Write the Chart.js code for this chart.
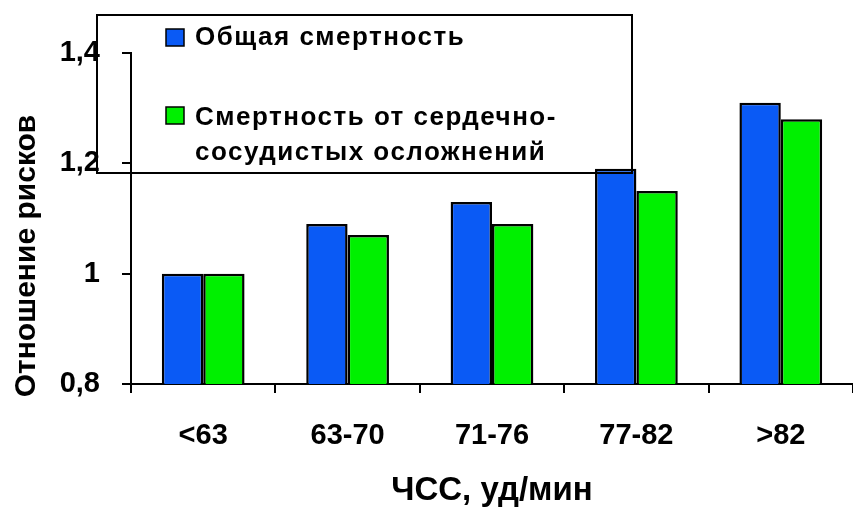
<!DOCTYPE html>
<html>
<head>
<meta charset="utf-8">
<script src="https://cdn.jsdelivr.net/npm/chart.js@4"></script>
<style>
  html, body { margin: 0; padding: 0; background: #fff; }
  #wrap { width: 853px; height: 511px; }
</style>
</head>
<body>
<div id="wrap"><canvas id="chart"></canvas></div>
<script>
const categories = ["<63", "63-70", "71-76", "77-82", ">82"];
const seriesNames = [["Общая смертность"], ["Смертность от сердечно-", "сосудистых осложнений"]];
const totalMortality = [1.0, 1.09, 1.13, 1.19, 1.31];
const cvMortality = [1.0, 1.07, 1.09, 1.15, 1.28];
const yTickValues = [0.8, 1, 1.2, 1.4];
const yTickLabels = ["0,8", "1", "1,2", "1,4"];
const xTitle = "ЧСС, уд/мин";
const yTitle = "Отношение рисков";

const FONT = "'Liberation Sans', Arial, sans-serif";
const blue = "#0a5af5";
const green = "#00f000";

// рамка легенды поверх графика, как в исходной картинке
const boxLegend = {
  id: "boxLegend",
  afterDraw(chart) {
    const ctx = chart.ctx;
    ctx.save();
    ctx.strokeStyle = "#000";
    ctx.lineWidth = 2;
    ctx.strokeRect(97, 15, 535, 158);

    const items = [
      { color: blue, lines: seriesNames[0], y: 29, baselines: [45] },
      { color: green, lines: seriesNames[1], y: 107, baselines: [125, 160] },
    ];
    ctx.font = "bold 26px " + FONT;
    ctx.letterSpacing = "1.5px";
    ctx.textBaseline = "alphabetic";
    items.forEach((it) => {
      ctx.fillStyle = it.color;
      ctx.fillRect(166, it.y, 18, 17);
      ctx.lineWidth = 1.5;
      ctx.strokeRect(166, it.y, 18, 17);
      ctx.fillStyle = "#000";
      it.lines.forEach((t, i) => ctx.fillText(t, 195, it.baselines[i]));
    });

    // подпись оси Y (смещена вниз относительно центра оси)
    ctx.letterSpacing = "0px";
    ctx.font = "bold 30px " + FONT;
    ctx.translate(27, 256);
    ctx.rotate(-Math.PI / 2);
    ctx.textAlign = "center";
    ctx.textBaseline = "middle";
    ctx.fillText(yTitle, 0, 0);
    ctx.restore();
  },
};

new Chart(document.getElementById("chart"), {
  type: "bar",
  data: {
    labels: categories,
    datasets: [
      {
        data: totalMortality,
        backgroundColor: blue,
        borderColor: "#000",
        borderWidth: 2.5,
        categoryPercentage: 0.573,
        barPercentage: 1,
      },
      {
        data: cvMortality,
        backgroundColor: green,
        borderColor: "#000",
        borderWidth: 2.5,
        categoryPercentage: 0.573,
        barPercentage: 1,
      },
    ],
  },
  options: {
    responsive: true,
    maintainAspectRatio: false,
    animation: false,
    layout: { padding: { top: 53, right: 0, left: 0, bottom: 0 } },
    plugins: {
      legend: { display: false },
      tooltip: { enabled: false },
    },
    scales: {
      x: {
        grid: { drawOnChartArea: false, color: "#000", lineWidth: 2, tickLength: 9, offset: true },
        border: { color: "#000", width: 2 },
        ticks: { color: "#000", font: { family: FONT, size: 29, weight: "bold" }, padding: 26 },
        title: { display: true, text: xTitle, color: "#000", font: { family: FONT, size: 33, weight: "bold" }, padding: { top: 0, bottom: 0 } },
        afterFit(scale) { scale.height = 127; },
      },
      y: {
        min: 0.8,
        max: 1.4,
        afterBuildTicks(scale) {
          scale.ticks = yTickValues.map((v) => ({ value: v }));
        },
        grid: { drawOnChartArea: false, color: "#000", lineWidth: 2, tickLength: 9 },
        border: { color: "#000", width: 2 },
        ticks: {
          color: "#000",
          font: { family: FONT, size: 29, weight: "bold" },
          padding: 22,
          callback: (v, i) => yTickLabels[i],
        },
        afterFit(scale) { scale.width = 131; },
      },
    },
  },
  plugins: [boxLegend],
});
</script>
</body>
</html>
